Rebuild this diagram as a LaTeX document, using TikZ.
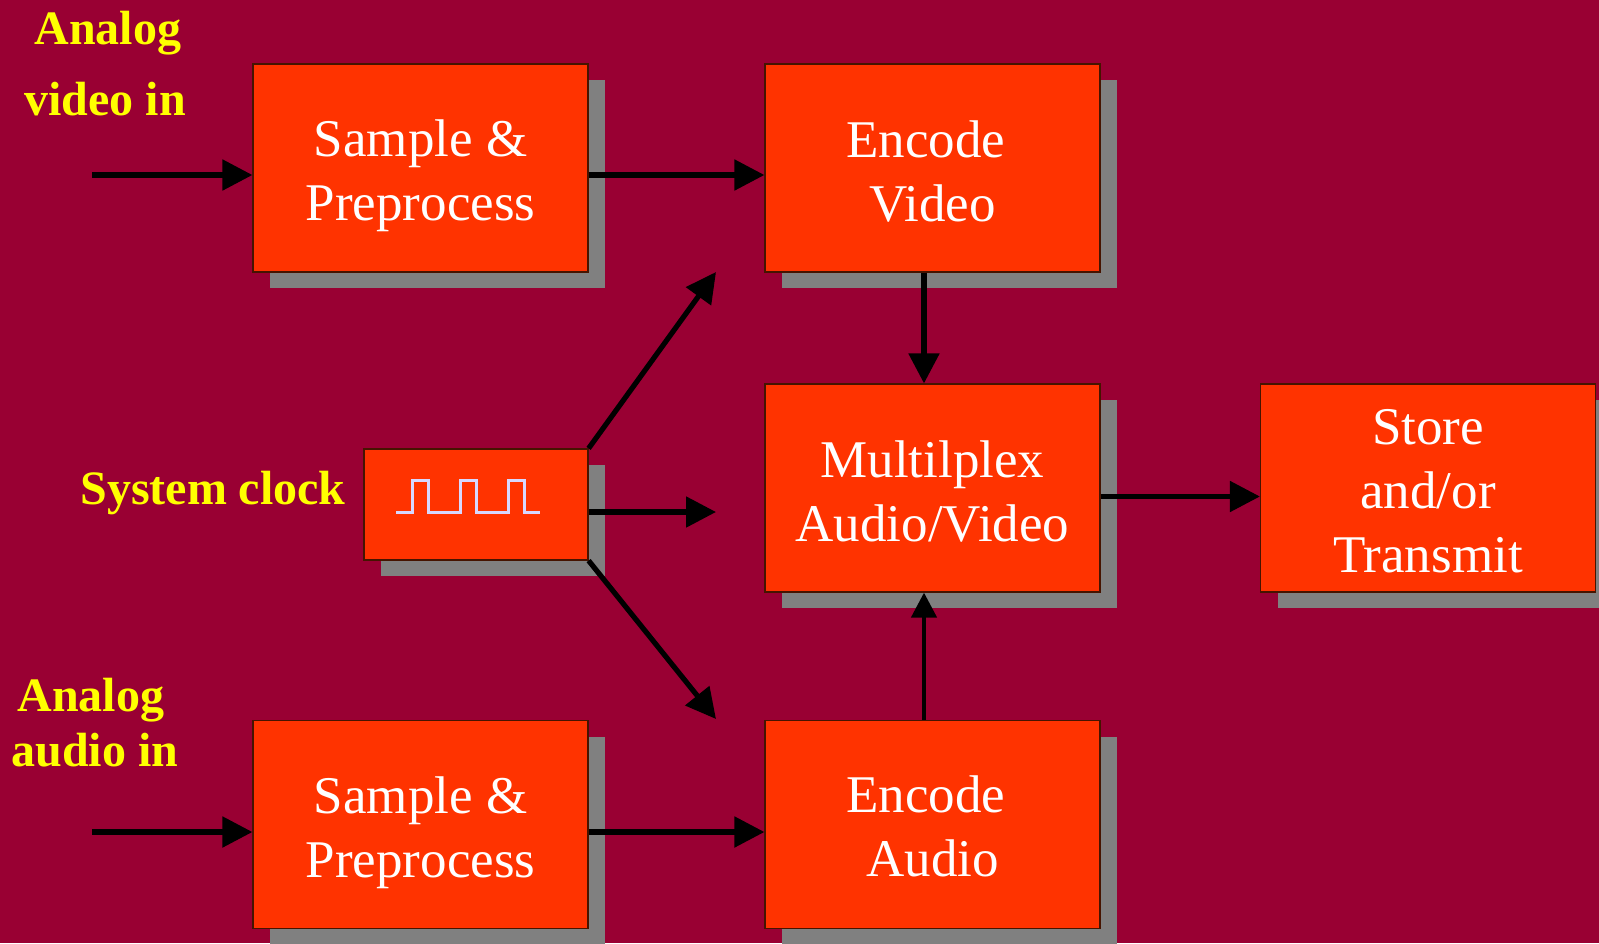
\documentclass[tikz,border=0pt]{standalone}
\usepackage{fontspec}
\setmainfont{Liberation Serif}
\usetikzlibrary{arrows.meta,shadows,calc}
\definecolor{bg}{RGB}{153,0,51}
\definecolor{boxfill}{RGB}{255,51,0}
\definecolor{boxline}{RGB}{70,20,0}
\definecolor{shade}{RGB}{128,128,128}
\definecolor{wavecol}{RGB}{215,215,255}
\definecolor{labelyellow}{RGB}{255,255,0}
% invisible strut that sets the height of a first text line
\newcommand{\topstrut}[1]{\rule{0pt}{#1}}

\begin{document}
\begin{tikzpicture}[x=1pt,y=-1pt,
  block/.style={draw=boxline, line width=1.2pt, fill=boxfill, text=white,
    minimum width=335pt, minimum height=208pt, inner sep=0pt, align=center,
    font=\fontsize{53}{64}\selectfont,
    drop shadow={shadow xshift=17pt, shadow yshift=-16pt, opacity=1, fill=shade}},
  tag/.style={text=labelyellow, font=\fontsize{48}{56}\selectfont\bfseries,
    anchor=base, inner sep=0pt},
  flow/.style={line width=5.2pt, -{Triangle[length=30pt,width=30pt]}},
  ]
  \useasboundingbox (0,0) rectangle (1599,943);
  \clip (0,0) rectangle (1599,943);
  \fill[bg] (0,0) rectangle (1599,943);

  % processing blocks
  \node[block] (sv) at (420.5,168) {\topstrut{53pt}Sample \&\\Preprocess};
  \node[block] (ev) at (932.5,168) {\topstrut{43pt}Encode\kern13pt\\Video};
  \node[block] (mx) at (932.5,488) {\topstrut{43pt}Multilplex\\Audio/Video};
  \node[block] (st) at (1428,488) {\topstrut{41pt}Store\\and/or\\Transmit};
  \node[block] (ea) at (932.5,824.5) {\topstrut{40pt}Encode\kern13pt\\Audio};
  \node[block] (sa) at (420.5,824.5) {\topstrut{53pt}Sample \&\\Preprocess};
  \node[block, minimum width=224pt, minimum height=111pt] (clk) at (476,504.5) {};

  % square wave inside the clock block
  \draw[wavecol, line width=3pt, line join=miter]
    ($(clk.center)+(-80,7.5)$) -- ++(16,0) -- ++(0,-32) -- ++(16,0) -- ++(0,32)
    -- ++(32,0) -- ++(0,-32) -- ++(16,0) -- ++(0,32)
    -- ++(32,0) -- ++(0,-32) -- ++(16,0) -- ++(0,32) -- ++(16,0);

  % input labels
  \node[tag] (vin1) at (108,44) {Analog};
  \node[tag] (vin2) at (105,115) {video in};
  \node[tag] (ain1) at (91,711) {Analog};
  \node[tag] (ain2) at (95,766) {audio in};
  \node[tag] (clkl) at (213,504) {System clock};

  % free ends of connectors
  \coordinate (vsrc) at (92,175);
  \coordinate (asrc) at (92,832);
  \coordinate (tUp) at (716,272);
  \coordinate (tMid) at (716,512);
  \coordinate (tDown) at (716,719);

  % connectors
  \draw[flow] (vsrc) -- (vsrc -| sv.west);
  \draw[flow] (vsrc -| sv.east) -- (vsrc -| ev.west);
  \draw[flow] (asrc) -- (asrc -| sa.west);
  \draw[flow] (asrc -| sa.east) -- (asrc -| ea.west);
  \draw[flow] (clk.north east) -- (tUp);
  \draw[flow] (tMid -| clk.east) -- (tMid);
  \draw[flow] (clk.south east) -- (tDown);
  \draw[flow] ([xshift=-8.5pt]ev.south) -- ([xshift=-8.5pt]mx.north);
  \draw[line width=4.5pt, -{Triangle[length=25pt,width=25pt]}]
    ([xshift=-8.5pt]ea.north) -- ([xshift=-8.5pt]mx.south);
  \draw[flow] ([yshift=-8.5pt]mx.east) -- ([yshift=-8.5pt]st.west);
\end{tikzpicture}
\end{document}
